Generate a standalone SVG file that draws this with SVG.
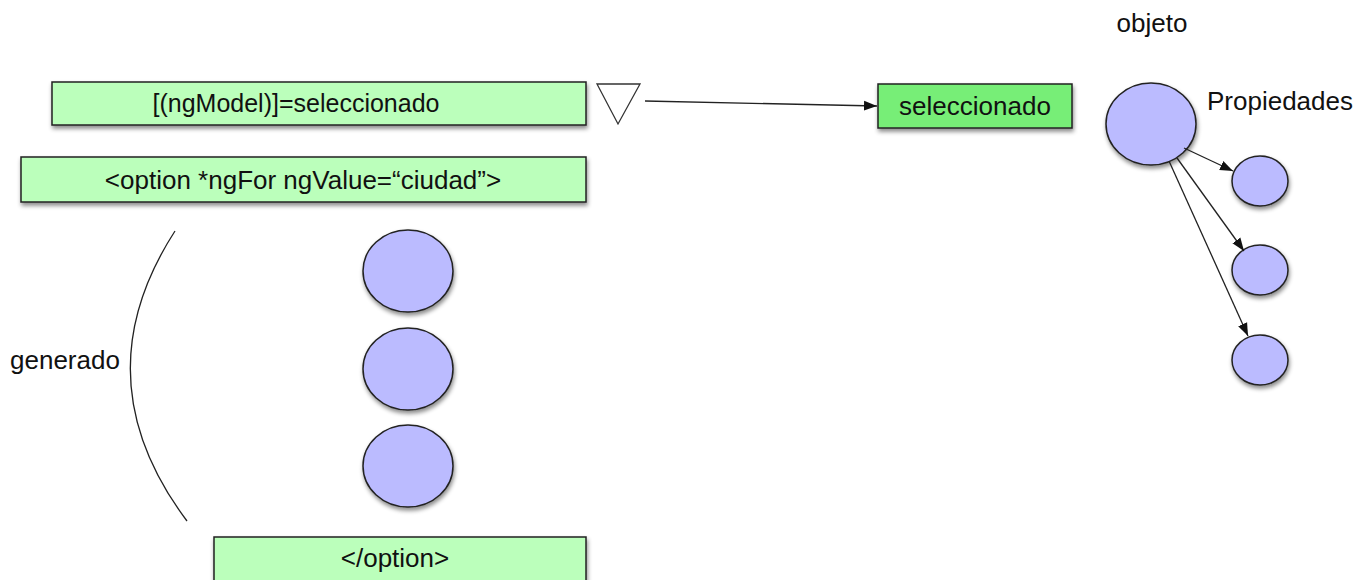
<svg xmlns="http://www.w3.org/2000/svg" width="1370" height="580" viewBox="0 0 1370 580">
<style>
text{font-family:"Liberation Sans",Arial,sans-serif;font-size:26px;fill:#111}
.box{fill:#bbffbb;stroke:#222;stroke-width:1.5}
.sel{fill:#77ee77;stroke:#222;stroke-width:1.5}
.c{fill:#bbbbff;stroke:#222;stroke-width:1.5}
.ln{stroke:#222;stroke-width:1.3;fill:none}
</style>
<defs>
<filter id="sh" x="-10%" y="-20%" width="130%" height="160%">
<feDropShadow dx="1" dy="3" stdDeviation="2" flood-color="#000" flood-opacity="0.45"/>
</filter>
<marker id="ah" viewBox="0 0 12 10" refX="12" refY="5" markerWidth="13" markerHeight="11" markerUnits="userSpaceOnUse" orient="auto">
<path d="M0,0.5 L12,5 L0,9.5 Z" fill="#111"/>
</marker>
</defs>
<g id="ngmodel"><rect class="box" x="52" y="82" width="534" height="43" filter="url(#sh)"/><text x="296" y="112" text-anchor="middle" style="font-size:25px">[(ngModel)]=seleccionado</text></g>
<g id="option"><rect class="box" x="21" y="157" width="565" height="45" filter="url(#sh)"/><text x="303" y="189" text-anchor="middle">&lt;option *ngFor ngValue=“ciudad”&gt;</text></g>
<g id="closeoption"><rect class="box" x="214" y="537" width="372" height="44" filter="url(#sh)"/><text x="395" y="567" text-anchor="middle">&lt;/option&gt;</text></g>
<g id="triangle"><path d="M597,84 L640,84 L618,124 Z" fill="#fff" stroke="#333" stroke-width="1.3"/></g>
<g id="seleccionado"><rect class="sel" x="878" y="84" width="194" height="44" filter="url(#sh)"/><text x="975" y="115" text-anchor="middle">seleccionado</text></g>
<g id="objeto"><ellipse class="c" cx="1151" cy="124" rx="45" ry="41" filter="url(#sh)"/><text x="1152" y="32" text-anchor="middle">objeto</text></g>
<g id="propiedades-label"><text x="1207" y="110">Propiedades</text></g>
<g id="prop1"><ellipse class="c" cx="1260" cy="181" rx="28" ry="25" filter="url(#sh)"/></g>
<g id="prop2"><ellipse class="c" cx="1260" cy="270" rx="28" ry="25" filter="url(#sh)"/></g>
<g id="prop3"><ellipse class="c" cx="1260" cy="360" rx="28" ry="25" filter="url(#sh)"/></g>
<g id="item1"><ellipse class="c" cx="408" cy="271" rx="45" ry="41" filter="url(#sh)"/></g>
<g id="item2"><ellipse class="c" cx="408" cy="369" rx="45" ry="41" filter="url(#sh)"/></g>
<g id="item3"><ellipse class="c" cx="408" cy="466" rx="45" ry="41" filter="url(#sh)"/></g>
<g id="generado"><text x="10" y="369">generado</text><path class="ln" d="M175,231 Q80,378 187,521"/></g>
<g id="connectors">
<line class="ln" x1="645" y1="101" x2="877" y2="106" marker-end="url(#ah)" stroke="#444"/>
<line class="ln" x1="1184" y1="148" x2="1233" y2="171" marker-end="url(#ah)"/>
<line class="ln" x1="1177" y1="158" x2="1244" y2="251" marker-end="url(#ah)"/>
<line class="ln" x1="1169" y1="161" x2="1248" y2="336" marker-end="url(#ah)"/>
</g>
</svg>
